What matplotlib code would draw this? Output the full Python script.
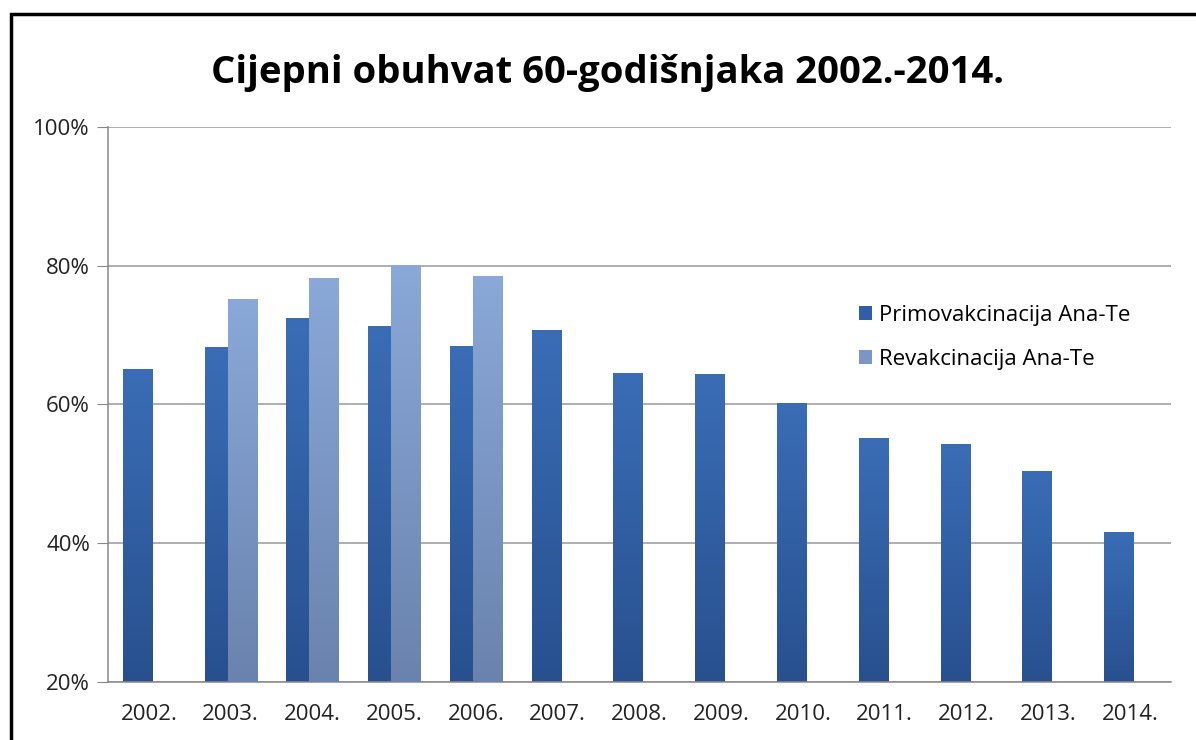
import numpy as np
import matplotlib.pyplot as plt
from matplotlib.patches import Patch, Rectangle
from matplotlib.colors import LinearSegmentedColormap

plt.rcParams['font.family'] = ['Open Sans', 'DejaVu Sans']

years = ['2002.', '2003.', '2004.', '2005.', '2006.', '2007.', '2008.',
         '2009.', '2010.', '2011.', '2012.', '2013.', '2014.']
primo = [65.0, 68.2, 72.4, 71.3, 68.3, 70.6, 64.5, 64.3, 60.2, 55.1, 54.3, 50.4, 41.5]
revak = [np.nan, 75.2, 78.2, 80.1, 78.5, np.nan, np.nan, np.nan, np.nan,
         np.nan, np.nan, np.nan, np.nan]

primo_cmap = LinearSegmentedColormap.from_list('p', ['#28508f', '#3a6db6'])
revak_cmap = LinearSegmentedColormap.from_list('r', ['#6a83ae', '#8aa8d8'])

fig = plt.figure(figsize=(11.96, 7.4), dpi=100)
ax = fig.add_axes([0.0903, 0.0784, 0.8887, 0.75])

# frame around the chart (only top and left are visible in the crop)
fig.patches.append(Rectangle((11 / 1196, -0.1), 1.2, 1 - 14 / 740 + 0.1,
                             transform=fig.transFigure, fill=False,
                             edgecolor='black', linewidth=2.5, zorder=10))

ymin = 20
width = 0.355
offset = 0.14
grad = np.linspace(0, 1, 256).reshape(-1, 1)

x = np.arange(len(years))
for i in x:
    if not np.isnan(primo[i]):
        ax.imshow(grad, cmap=primo_cmap, origin='lower', aspect='auto',
                  extent=[i - offset - width / 2, i - offset + width / 2, ymin, primo[i]],
                  zorder=2)
    if not np.isnan(revak[i]):
        ax.imshow(grad, cmap=revak_cmap, origin='lower', aspect='auto',
                  extent=[i + offset - width / 2, i + offset + width / 2, ymin, revak[i]],
                  zorder=3)

ax.set_xlim(-0.5, len(years) - 0.5)
ax.set_ylim(20, 100)
ax.set_yticks([20, 40, 60, 80, 100])
ax.set_yticklabels(['20%', '40%', '60%', '80%', '100%'])
ax.set_xticks(x)
ax.set_xticklabels(years)
ax.tick_params(axis='y', length=8, color='#888888', labelsize=16, pad=5, labelcolor='#222222')
ax.tick_params(axis='x', length=0, labelsize=16, pad=16, labelcolor='#222222')
ax.yaxis.grid(True, color='#999999', linewidth=1.1, zorder=1)
ax.set_axisbelow(True)
for s in ['top', 'right']:
    ax.spines[s].set_visible(False)
ax.spines['left'].set_color('#888888')
ax.spines['bottom'].set_color('#888888')
ax.spines['left'].set_linewidth(1.1)
ax.spines['bottom'].set_linewidth(1.1)

fig.text(0.508, 0.902, 'Cijepni obuhvat 60-godišnjaka 2002.-2014.',
         ha='center', va='center', fontsize=27.5, fontweight='bold')

handles = [Patch(facecolor='#2f5fa6', label='Primovakcinacija Ana-Te'),
           Patch(facecolor='#7b96c6', label='Revakcinacija Ana-Te')]
ax.legend(handles=handles, loc='upper left', bbox_to_anchor=(850 / 1196, 1 - 296 / 740),
          bbox_transform=fig.transFigure, frameon=False, fontsize=16,
          handlelength=0.6, handleheight=0.6, handletextpad=0.3, labelspacing=1.05,
          borderaxespad=0)

fig.savefig('out.png', dpi=100)
